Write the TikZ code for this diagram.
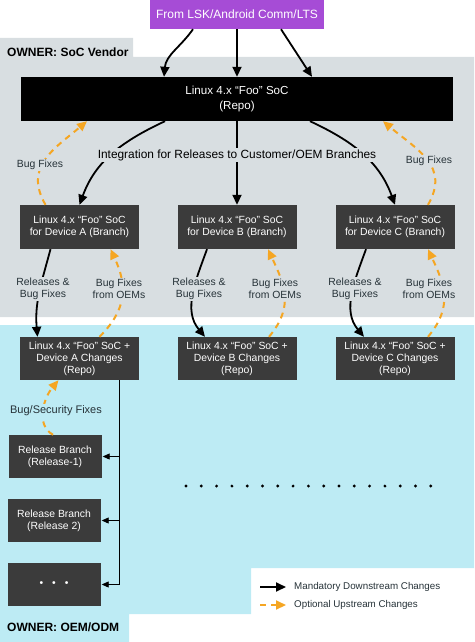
\documentclass[tikz,border=0pt]{standalone}
\usepackage{fontspec}
\setmainfont{Liberation Sans}
\usetikzlibrary{arrows.meta, positioning, calc}
\definecolor{socgray}{HTML}{D8DEE1}
\definecolor{oemcyan}{HTML}{BDEBF4}
\definecolor{srcpurple}{HTML}{A64CD6}
\definecolor{boxdark}{HTML}{3B3B3B}
\definecolor{upstream}{HTML}{F5A623}
\definecolor{lbltext}{HTML}{263238}

\begin{document}
\begin{tikzpicture}[
    x=1pt, y=1pt,
    box/.style={fill=boxdark, text=white, align=center, inner sep=0pt, minimum width=119pt, minimum height=44pt, font=\fontsize{10.4}{12}\selectfont},
    relbox/.style={box, minimum width=93pt, minimum height=43pt},
    lbl/.style={font=\fontsize{10.4}{12}\selectfont, align=center, text=lbltext, fill=socgray, inner sep=1.5pt},
    owner/.style={font=\bfseries\fontsize{12}{14}\selectfont, anchor=west, text=black, inner sep=0pt},
    arr/.style={-{Triangle[length=10pt, width=9pt]}, line width=1.8pt},
    opt/.style={-{Triangle[length=10pt, width=9pt]}, line width=2pt, upstream, dash pattern=on 6pt off 5pt},
    branchArr/.style={-{Triangle[length=7pt, width=6pt]}, line width=0.9pt, shorten >=1pt}
]
\useasboundingbox (0,0) rectangle (474,-642);

% owner regions
\fill[socgray] (0,-38) -- (133,-38) -- (133,-57) -- (474,-57) -- (474,-317) -- (0,-317) -- cycle;
\fill[oemcyan] (0,-325) -- (474,-325) -- (474,-568) -- (251,-568) -- (251,-614) -- (129,-614) -- (129,-642) -- (0,-642) -- cycle;
\node[owner] (socOwner) at (7,-52) {OWNER: SoC Vendor};
\node[owner] (oemOwner) at (7,-627) {OWNER: OEM/ODM};

% boxes
\node[fill=srcpurple, text=white, minimum width=174pt, minimum height=29pt, inner sep=0pt, font=\fontsize{12}{14}\selectfont] (src) at (237,-14.5) {From LSK/Android Comm/LTS};
\node[box, fill=black, minimum width=432pt, font=\fontsize{11.6}{15}\selectfont] (repo) at (237,-99) {Linux 4.x “Foo” SoC\\(Repo)};

\node[box] (brA) at (79.5,-227) {Linux 4.x “Foo” SoC\\for Device A (Branch)};
\node[box] (brB) at (237,-227) {Linux 4.x “Foo” SoC\\for Device B (Branch)};
\node[box] (brC) at (395,-227) {Linux 4.x “Foo” SoC\\for Device C (Branch)};

\node[box, minimum height=43pt] (devA) at (79.5,-358.5) {Linux 4.x “Foo” SoC +\\Device A Changes\\(Repo)};
\node[box, minimum height=43pt] (devB) at (237,-358.5) {Linux 4.x “Foo” SoC +\\Device B Changes\\(Repo)};
\node[box, minimum height=43pt] (devC) at (395,-358.5) {Linux 4.x “Foo” SoC +\\Device C Changes\\(Repo)};

\node[relbox] (relA) at (55,-456.5) {Release Branch\\(Release-1)};
\node[relbox] (relB) at (54,-520.5) {Release Branch\\(Release 2)};
\node[relbox] (relMore) at (54,-584.5) {\textbullet\hspace{9pt}\textbullet\hspace{9pt}\textbullet};

% downstream
\draw[arr] ([xshift=-44pt]src.south) to[out=-125, in=85] ([xshift=-73pt]repo.north);
\draw[arr] (src) -- (repo);
\draw[arr] ([xshift=44pt]src.south) -- ([xshift=75pt]repo.north);

\draw[arr] ([xshift=-72pt]repo.south) to[out=-155, in=70] (brA.north);
\draw[arr] (repo) -- (brB);
\draw[arr] ([xshift=73pt]repo.south) to[out=-25, in=110] (brC.north);

\draw[arr] ([xshift=-29pt]brA.south) to[out=-105, in=95] ([xshift=-42pt]devA.north);
\draw[arr] ([xshift=-30pt]brB.south) to[out=-110, in=130] ([xshift=-32pt]devB.north);
\draw[arr] ([xshift=-29pt]brC.south) to[out=-110, in=130] ([xshift=-31pt]devC.north);

\coordinate (trunk) at ([xshift=40pt]devA.south);
\draw[branchArr] (trunk) |- (relMore.east);
\draw[branchArr] (trunk |- relA.east) -- (relA.east);
\draw[branchArr] (trunk |- relB.east) -- (relB.east);

% upstream
\draw[opt] ([xshift=-34pt]brA.north) to[out=120, in=-140, looseness=1.2] ([xshift=-150pt]repo.south);
\draw[opt] ([xshift=33pt]brC.north) to[out=60, in=-40, looseness=1.2] ([xshift=146pt]repo.south);

\draw[opt] ([xshift=20pt]devA.north) to[out=45, in=-65, looseness=1.15] ([xshift=31pt]brA.south);
\draw[opt] ([xshift=32pt]devB.north) to[out=50, in=-65, looseness=1.15] ([xshift=31pt]brB.south);
\draw[opt] ([xshift=33pt]devC.north) to[out=50, in=-65, looseness=1.15] ([xshift=33pt]brC.south);

\draw[opt] ([xshift=-2pt]relA.north) to[out=150, in=-130] ([xshift=-21pt]devA.south);

% labels
\node[lbl, font=\fontsize{11.9}{14}\selectfont, text=black] (integ) at (237,-155) {Integration for Releases to Customer/OEM Branches};
\node[lbl] (bfL) at (40,-165) {Bug Fixes};
\node[lbl] (bfR) at (429,-161) {Bug Fixes};
\node[lbl] (relfxA) at (43,-289) {Releases \&\\Bug Fixes};
\node[lbl] (oemfxA) at (119,-289) {Bug Fixes\\from OEMs};
\node[lbl] (relfxB) at (199,-289) {Releases \&\\Bug Fixes};
\node[lbl] (oemfxB) at (275,-289) {Bug Fixes\\from OEMs};
\node[lbl] (relfxC) at (355,-289) {Releases \&\\Bug Fixes};
\node[lbl] (oemfxC) at (429,-289) {Bug Fixes\\from OEMs};
\node[lbl, fill=oemcyan, font=\fontsize{11}{13}\selectfont] (secfx) at (56,-411) {Bug/Security Fixes};

% more devices
\foreach \i in {0,...,16}
  \fill (186+15.3*\i,-486) circle (1.6pt);

% legend
\coordinate (lgMandA) at (260,-587);
\coordinate (lgMandB) at (286,-587);
\coordinate (lgOptA) at (260,-605);
\coordinate (lgOptB) at (286,-605);
\draw[arr] (lgMandA) -- (lgMandB);
\draw[opt] (lgOptA) -- (lgOptB);
\node[anchor=west, inner sep=0pt, font=\fontsize{9.8}{11}\selectfont, text=lbltext] (legMand) at (294,-587) {Mandatory Downstream Changes};
\node[anchor=west, inner sep=0pt, font=\fontsize{9.8}{11}\selectfont, text=lbltext] (legOpt) at (294,-605) {Optional Upstream Changes};
\end{tikzpicture}
\end{document}
